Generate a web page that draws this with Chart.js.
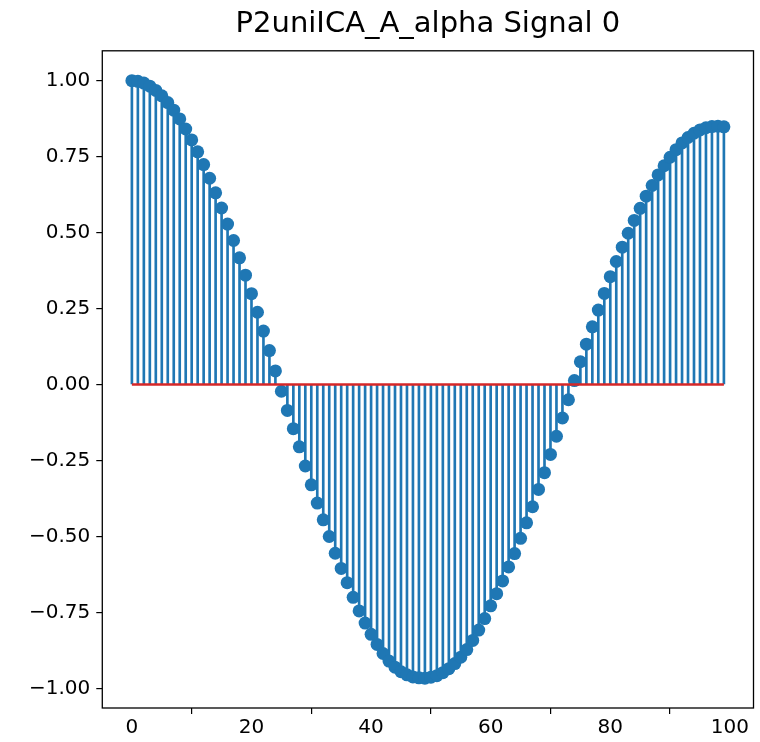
<!DOCTYPE html>
<html lang="en">
<head>
    <meta charset="UTF-8">
    <title>P2uniICA_A_alpha Signal 0</title>
    <script src="https://cdn.jsdelivr.net/npm/chart.js"></script>
    <style>
        html, body {
            margin: 0;
            padding: 0;
            background-color: #fff;
        }
        #wrap {
            width: 760px;
            height: 742px;
        }
    </style>
</head>
<body>
    <div id="wrap">
        <canvas id="stemChart" width="760" height="742"></canvas>
    </div>

    <script>
        const chartTitle = 'P2uniICA_A_alpha Signal 0';

        // stem values, one per sample index 0..99
        const signal0 = [
            1.000, 0.998, 0.992, 0.982, 0.968, 0.950, 0.928, 0.903, 0.874, 0.841,
            0.805, 0.766, 0.724, 0.679, 0.631, 0.581, 0.528, 0.474, 0.417, 0.360,
            0.299, 0.238, 0.176, 0.112, 0.045, -0.022, -0.085, -0.145, -0.205, -0.268,
            -0.330, -0.390, -0.445, -0.500, -0.555, -0.605, -0.652, -0.700, -0.745, -0.785,
            -0.822, -0.855, -0.885, -0.910, -0.930, -0.945, -0.955, -0.962, -0.965, -0.966,
            -0.963, -0.958, -0.948, -0.935, -0.918, -0.897, -0.872, -0.842, -0.808, -0.770,
            -0.728, -0.688, -0.646, -0.600, -0.556, -0.506, -0.455, -0.402, -0.345, -0.290,
            -0.230, -0.170, -0.110, -0.050, 0.013, 0.075, 0.133, 0.190, 0.245, 0.300,
            0.355, 0.405, 0.452, 0.498, 0.540, 0.580, 0.620, 0.655, 0.690, 0.720,
            0.748, 0.773, 0.795, 0.813, 0.827, 0.838, 0.845, 0.849, 0.850, 0.848
        ];
        const sampleIndex = signal0.map((v, i) => i);

        const xTicks = [0, 20, 40, 60, 80, 100];
        const yTicks = [-1.0, -0.75, -0.5, -0.25, 0.0, 0.25, 0.5, 0.75, 1.0];
        const baselineX = [0, 99];

        const stemBlue = '#1f77b4';
        const baseRed = '#d62728';

        const points = sampleIndex.map((x, i) => ({ x: x, y: signal0[i] }));

        // matplotlib-style full box round the axes
        const frameBox = {
            id: 'frameBox',
            afterDatasetsDraw(chart) {
                const a = chart.chartArea;
                const ctx = chart.ctx;
                ctx.save();
                ctx.strokeStyle = '#000';
                ctx.lineWidth = 1.3;
                ctx.strokeRect(a.left, a.top, a.right - a.left, a.bottom - a.top);
                ctx.restore();
            }
        };

        const tickFont = { family: 'DejaVu Sans', size: 20, lineHeight: 1.2 };

        new Chart(document.getElementById('stemChart').getContext('2d'), {
            type: 'bar',
            data: {
                datasets: [
                    {
                        type: 'line',
                        label: 'baseline',
                        data: baselineX.map(x => ({ x: x, y: 0 })),
                        borderColor: baseRed,
                        borderWidth: 2.5,
                        pointRadius: 0,
                        order: 0
                    },
                    {
                        type: 'scatter',
                        label: 'markers',
                        data: points,
                        backgroundColor: stemBlue,
                        borderWidth: 0,
                        pointRadius: 6.5,
                        order: 1
                    },
                    {
                        type: 'bar',
                        label: 'stems',
                        data: points,
                        backgroundColor: stemBlue,
                        barThickness: 2,
                        grouped: false,
                        order: 2
                    }
                ]
            },
            options: {
                responsive: false,
                animation: false,
                layout: { padding: { left: 23, right: -4.5, top: 0, bottom: 0 } },
                plugins: {
                    legend: { display: false },
                    tooltip: { enabled: false },
                    title: {
                        display: true,
                        fullSize: false,
                        text: chartTitle,
                        color: '#000',
                        font: { family: 'DejaVu Sans', size: 29, weight: 'normal', lineHeight: 1.2 },
                        padding: { top: 7, bottom: 9 }
                    }
                },
                scales: {
                    x: {
                        type: 'linear',
                        offset: false,
                        min: -4.95,
                        max: 103.95,
                        afterBuildTicks: axis => { axis.ticks = xTicks.map(v => ({ value: v })); },
                        // the "100" label sits inside the margin, no extra room needed
                        afterFit: axis => { axis.paddingRight = 0; axis.paddingLeft = 0; },
                        ticks: { color: '#000', font: tickFont, padding: 2, maxRotation: 0 },
                        grid: { display: true, drawOnChartArea: false, drawTicks: true, tickLength: 6, color: '#000', lineWidth: 1.2 },
                        border: { display: false }
                    },
                    y: {
                        min: -1.0643,
                        max: 1.0983,
                        afterBuildTicks: axis => { axis.ticks = yTicks.map(v => ({ value: v })); },
                        ticks: {
                            color: '#000',
                            font: tickFont,
                            padding: 6,
                            callback: v => (v < 0 ? '\u2212' + Math.abs(v).toFixed(2) : v.toFixed(2))
                        },
                        grid: { display: true, drawOnChartArea: false, drawTicks: true, tickLength: 6, color: '#000', lineWidth: 1.2 },
                        border: { display: false }
                    }
                }
            },
            plugins: [frameBox]
        });
    </script>
</body>
</html>
